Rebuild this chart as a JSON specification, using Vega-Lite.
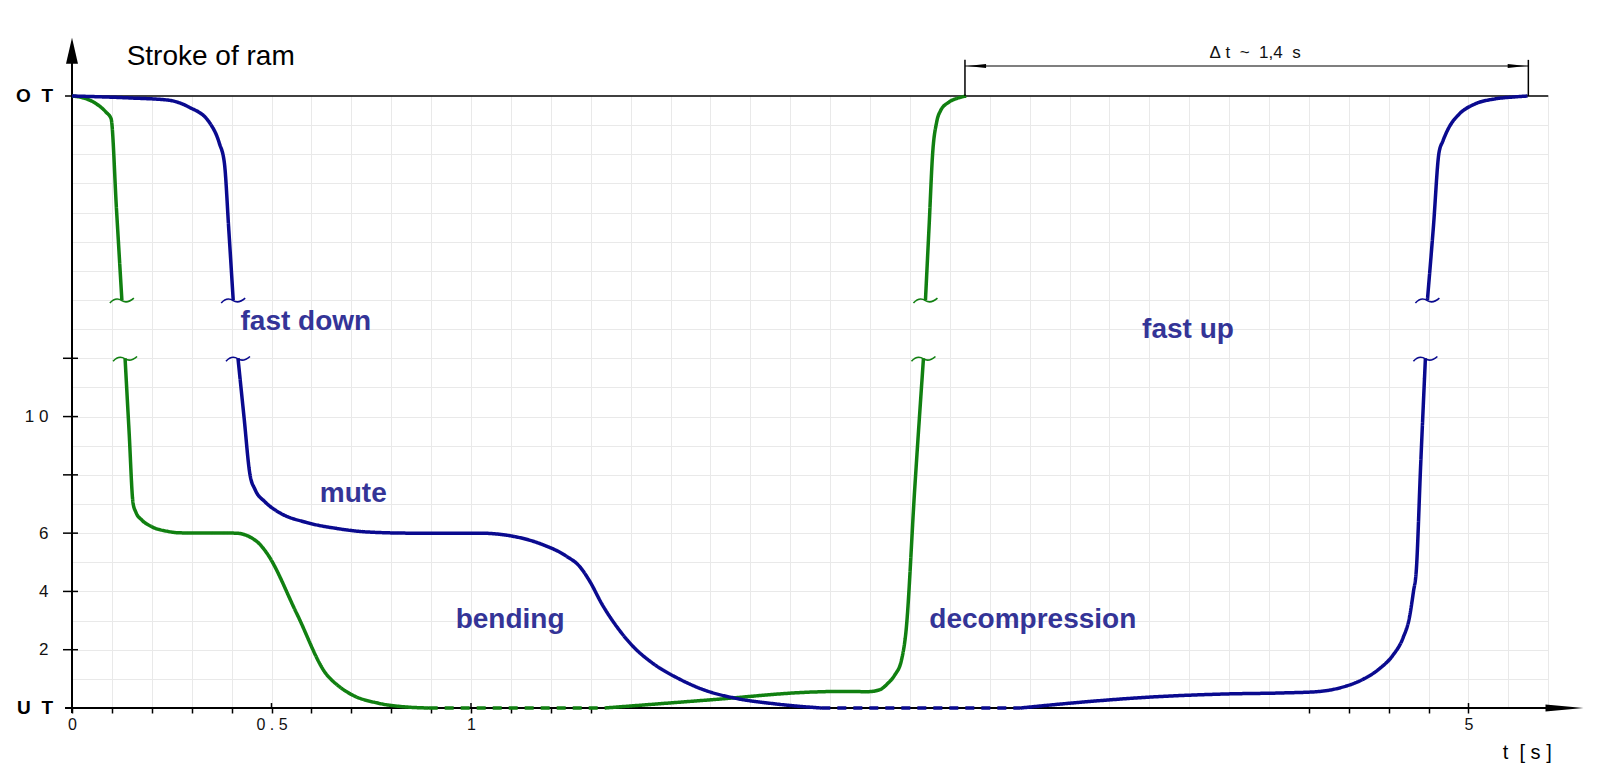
{
  "$schema": "https://vega.github.io/schema/vega-lite/v6.json",
  "width": 1476,
  "height": 612,
  "autosize": {"type": "none"},
  "padding": {"left": 72, "top": 96, "right": 52, "bottom": 69},
  "background": "white",
  "config": {"view": {"stroke": null}, "font": "Liberation Sans", "axis": {"labelFont": "Liberation Sans"}},
  "datasets": {
    "curves": [
      {"series": "A", "seg": "A1", "state": "moving", "t": 0, "v": 21},
      {"series": "A", "seg": "A1", "state": "moving", "t": 0.03, "v": 20.93},
      {"series": "A", "seg": "A1", "state": "moving", "t": 0.06, "v": 20.74},
      {"series": "A", "seg": "A1", "state": "moving", "t": 0.085, "v": 20.45},
      {"series": "A", "seg": "A1", "state": "moving", "t": 0.098, "v": 20.22},
      {"series": "A", "seg": "A1", "state": "moving", "t": 0.1115, "v": 17.11},
      {"series": "A", "seg": "A1", "state": "moving", "t": 0.125, "v": 14},
      {"series": "A", "seg": "A2", "state": "moving", "t": 0.133, "v": 12},
      {"series": "A", "seg": "A2", "state": "moving", "t": 0.143, "v": 9.5},
      {"series": "A", "seg": "A2", "state": "moving", "t": 0.153, "v": 7.03},
      {"series": "A", "seg": "A2", "state": "moving", "t": 0.16, "v": 6.72},
      {"series": "A", "seg": "A2", "state": "moving", "t": 0.175, "v": 6.45},
      {"series": "A", "seg": "A2", "state": "moving", "t": 0.2, "v": 6.22},
      {"series": "A", "seg": "A2", "state": "moving", "t": 0.24, "v": 6.06},
      {"series": "A", "seg": "A2", "state": "moving", "t": 0.27, "v": 6.01},
      {"series": "A", "seg": "A2", "state": "moving", "t": 0.41, "v": 6.0},
      {"series": "A", "seg": "A2", "state": "moving", "t": 0.447, "v": 5.86},
      {"series": "A", "seg": "A2", "state": "moving", "t": 0.472, "v": 5.6},
      {"series": "A", "seg": "A2", "state": "moving", "t": 0.49, "v": 5.28},
      {"series": "A", "seg": "A2", "state": "moving", "t": 0.564, "v": 3.22},
      {"series": "A", "seg": "A2", "state": "moving", "t": 0.638, "v": 1.15},
      {"series": "A", "seg": "A2", "state": "moving", "t": 0.664, "v": 0.8},
      {"series": "A", "seg": "A2", "state": "moving", "t": 0.702, "v": 0.45},
      {"series": "A", "seg": "A2", "state": "moving", "t": 0.766, "v": 0.17},
      {"series": "A", "seg": "A2", "state": "moving", "t": 0.843, "v": 0.03},
      {"series": "A", "seg": "A2", "state": "moving", "t": 0.894, "v": 0},
      {"series": "A", "seg": "A3", "state": "dwell", "t": 0.894, "v": 0},
      {"series": "A", "seg": "A3", "state": "dwell", "t": 1.335, "v": 0},
      {"series": "A", "seg": "A4", "state": "moving", "t": 1.335, "v": 0},
      {"series": "A", "seg": "A4", "state": "moving", "t": 1.6, "v": 0.28},
      {"series": "A", "seg": "A4", "state": "moving", "t": 1.86, "v": 0.55},
      {"series": "A", "seg": "A4", "state": "moving", "t": 1.93, "v": 0.57},
      {"series": "A", "seg": "A4", "state": "moving", "t": 1.995, "v": 0.56},
      {"series": "A", "seg": "A4", "state": "moving", "t": 3.525, "v": 0.63},
      {"series": "A", "seg": "A4", "state": "moving", "t": 3.545, "v": 0.85},
      {"series": "A", "seg": "A4", "state": "moving", "t": 3.562, "v": 1.13},
      {"series": "A", "seg": "A4", "state": "moving", "t": 3.579, "v": 1.65},
      {"series": "A", "seg": "A4", "state": "moving", "t": 3.59, "v": 2.6},
      {"series": "A", "seg": "A4", "state": "moving", "t": 3.612, "v": 7.5},
      {"series": "A", "seg": "A4", "state": "moving", "t": 3.634, "v": 12},
      {"series": "A", "seg": "A5", "state": "moving", "t": 3.639, "v": 14},
      {"series": "A", "seg": "A5", "state": "moving", "t": 3.648, "v": 16.5},
      {"series": "A", "seg": "A5", "state": "moving", "t": 3.657, "v": 19.03},
      {"series": "A", "seg": "A5", "state": "moving", "t": 3.667, "v": 20.1},
      {"series": "A", "seg": "A5", "state": "moving", "t": 3.677, "v": 20.5},
      {"series": "A", "seg": "A5", "state": "moving", "t": 3.698, "v": 20.79},
      {"series": "A", "seg": "A5", "state": "moving", "t": 3.723, "v": 20.94},
      {"series": "A", "seg": "A5", "state": "moving", "t": 3.741, "v": 21},
      {"series": "B", "seg": "B1", "state": "moving", "t": 0, "v": 21},
      {"series": "B", "seg": "B1", "state": "moving", "t": 0.075, "v": 20.97},
      {"series": "B", "seg": "B1", "state": "moving", "t": 0.15, "v": 20.93},
      {"series": "B", "seg": "B1", "state": "moving", "t": 0.24, "v": 20.86},
      {"series": "B", "seg": "B1", "state": "moving", "t": 0.293, "v": 20.62},
      {"series": "B", "seg": "B1", "state": "moving", "t": 0.344, "v": 20.1},
      {"series": "B", "seg": "B1", "state": "moving", "t": 0.369, "v": 19.39},
      {"series": "B", "seg": "B1", "state": "moving", "t": 0.382, "v": 18.69},
      {"series": "B", "seg": "B1", "state": "moving", "t": 0.393, "v": 16.4},
      {"series": "B", "seg": "B1", "state": "moving", "t": 0.404, "v": 14},
      {"series": "B", "seg": "B2", "state": "moving", "t": 0.416, "v": 12},
      {"series": "B", "seg": "B2", "state": "moving", "t": 0.431, "v": 10},
      {"series": "B", "seg": "B2", "state": "moving", "t": 0.446, "v": 8.01},
      {"series": "B", "seg": "B2", "state": "moving", "t": 0.459, "v": 7.49},
      {"series": "B", "seg": "B2", "state": "moving", "t": 0.484, "v": 7.07},
      {"series": "B", "seg": "B2", "state": "moving", "t": 0.523, "v": 6.68},
      {"series": "B", "seg": "B2", "state": "moving", "t": 0.587, "v": 6.37},
      {"series": "B", "seg": "B2", "state": "moving", "t": 0.664, "v": 6.16},
      {"series": "B", "seg": "B2", "state": "moving", "t": 0.74, "v": 6.04},
      {"series": "B", "seg": "B2", "state": "moving", "t": 0.85, "v": 6.0},
      {"series": "B", "seg": "B2", "state": "moving", "t": 1.021, "v": 6.0},
      {"series": "B", "seg": "B2", "state": "moving", "t": 1.098, "v": 5.91},
      {"series": "B", "seg": "B2", "state": "moving", "t": 1.175, "v": 5.63},
      {"series": "B", "seg": "B2", "state": "moving", "t": 1.239, "v": 5.21},
      {"series": "B", "seg": "B2", "state": "moving", "t": 1.272, "v": 4.86},
      {"series": "B", "seg": "B2", "state": "moving", "t": 1.298, "v": 4.34},
      {"series": "B", "seg": "B2", "state": "moving", "t": 1.328, "v": 3.57},
      {"series": "B", "seg": "B2", "state": "moving", "t": 1.367, "v": 2.76},
      {"series": "B", "seg": "B2", "state": "moving", "t": 1.405, "v": 2.13},
      {"series": "B", "seg": "B2", "state": "moving", "t": 1.456, "v": 1.53},
      {"series": "B", "seg": "B2", "state": "moving", "t": 1.52, "v": 1.01},
      {"series": "B", "seg": "B2", "state": "moving", "t": 1.584, "v": 0.62},
      {"series": "B", "seg": "B2", "state": "moving", "t": 1.661, "v": 0.34},
      {"series": "B", "seg": "B2", "state": "moving", "t": 1.763, "v": 0.14},
      {"series": "B", "seg": "B2", "state": "moving", "t": 1.878, "v": 0},
      {"series": "B", "seg": "B3", "state": "dwell", "t": 1.878, "v": 0},
      {"series": "B", "seg": "B3", "state": "dwell", "t": 3.877, "v": 0},
      {"series": "B", "seg": "B4", "state": "moving", "t": 3.877, "v": 0},
      {"series": "B", "seg": "B4", "state": "moving", "t": 4.03, "v": 0.2},
      {"series": "B", "seg": "B4", "state": "moving", "t": 4.209, "v": 0.38},
      {"series": "B", "seg": "B4", "state": "moving", "t": 4.388, "v": 0.48},
      {"series": "B", "seg": "B4", "state": "moving", "t": 4.542, "v": 0.52},
      {"series": "B", "seg": "B4", "state": "moving", "t": 4.62, "v": 0.56},
      {"series": "B", "seg": "B4", "state": "moving", "t": 4.68, "v": 0.7},
      {"series": "B", "seg": "B4", "state": "moving", "t": 4.735, "v": 0.98},
      {"series": "B", "seg": "B4", "state": "moving", "t": 4.777, "v": 1.35},
      {"series": "B", "seg": "B4", "state": "moving", "t": 4.81, "v": 1.8},
      {"series": "B", "seg": "B4", "state": "moving", "t": 4.836, "v": 2.41},
      {"series": "B", "seg": "B4", "state": "moving", "t": 4.852, "v": 3.11},
      {"series": "B", "seg": "B4", "state": "moving", "t": 4.862, "v": 3.99},
      {"series": "B", "seg": "B4", "state": "moving", "t": 4.869, "v": 4.69},
      {"series": "B", "seg": "B4", "state": "moving", "t": 4.88, "v": 8.3},
      {"series": "B", "seg": "B4", "state": "moving", "t": 4.892, "v": 12},
      {"series": "B", "seg": "B5", "state": "moving", "t": 4.897, "v": 14},
      {"series": "B", "seg": "B5", "state": "moving", "t": 4.912, "v": 16.5},
      {"series": "B", "seg": "B5", "state": "moving", "t": 4.926, "v": 19.05},
      {"series": "B", "seg": "B5", "state": "moving", "t": 4.936, "v": 19.46},
      {"series": "B", "seg": "B5", "state": "moving", "t": 4.951, "v": 19.92},
      {"series": "B", "seg": "B5", "state": "moving", "t": 4.976, "v": 20.37},
      {"series": "B", "seg": "B5", "state": "moving", "t": 5.015, "v": 20.72},
      {"series": "B", "seg": "B5", "state": "moving", "t": 5.066, "v": 20.9},
      {"series": "B", "seg": "B5", "state": "moving", "t": 5.117, "v": 20.97},
      {"series": "B", "seg": "B5", "state": "moving", "t": 5.148, "v": 21}
    ],
    "breaks": [
      {"series": "A", "t": 0.125, "v": 14},
      {"series": "A", "t": 0.133, "v": 12},
      {"series": "A", "t": 3.639, "v": 14},
      {"series": "A", "t": 3.634, "v": 12},
      {"series": "B", "t": 0.404, "v": 14},
      {"series": "B", "t": 0.416, "v": 12},
      {"series": "B", "t": 4.897, "v": 14},
      {"series": "B", "t": 4.892, "v": 12}
    ],
    "phases": [
      {"label": "fast down", "t": 0.586, "v": 12.97},
      {"label": "mute", "t": 0.705, "v": 7.07},
      {"label": "bending", "t": 1.098, "v": 2.75},
      {"label": "decompression", "t": 3.908, "v": 2.75},
      {"label": "fast up", "t": 4.297, "v": 12.69}
    ]
  },
  "resolve": {"axis": {"x": "independent", "y": "independent"}},
  "layer": [
    {
      "data": {"name": "curves"},
      "mark": {"type": "line", "strokeWidth": 3.4, "interpolate": "monotone"},
      "encoding": {
        "x": {"field": "t", "type": "quantitative", "scale": {"domain": [0, 2, 3.5, 5.2], "range": [0, 798, 798, 1476.3], "nice": false, "zero": false}, "axis": {"orient": "bottom", "grid": true, "gridColor": "#e9e9e9", "gridWidth": 1, "values": [0.1, 0.2, 0.3, 0.4, 0.5, 0.6, 0.7, 0.8, 0.9, 1.0, 1.1, 1.2, 1.3, 1.4, 1.5, 1.6, 1.7, 1.8, 1.9, 2.0, 3.6, 3.7, 3.8, 3.9, 4.0, 4.1, 4.2, 4.3, 4.4, 4.5, 4.6, 4.7, 4.8, 4.9, 5.0, 5.1, 5.2], "ticks": false, "tickSize": 0, "labels": false, "domain": false, "title": null}},
        "y": {"field": "v", "type": "quantitative", "scale": {"domain": [0, 21], "nice": false, "zero": false}, "axis": {"orient": "left", "grid": true, "gridColor": "#e9e9e9", "gridWidth": 1, "values": [1, 2, 3, 4, 5, 6, 7, 8, 9, 10, 11, 12, 13, 14, 15, 16, 17, 18, 19, 20], "ticks": false, "tickSize": 0, "labels": false, "domain": false, "title": null}},
        "color": {"field": "series", "type": "nominal", "scale": {"domain": ["A", "B"], "range": ["#118011", "#0a0a8f"]}, "legend": null},
        "detail": {"field": "seg"},
        "strokeDash": {"field": "state", "type": "nominal", "scale": {"domain": ["moving", "dwell"], "range": [[1, 0], [9, 7]]}, "legend": null},
        "opacity": {"value": 0}
      }
    },
    {
      "data": {"values": [{}]},
      "mark": {"type": "rule", "color": "#000", "strokeWidth": 1.5},
      "encoding": {"x": {"datum": -0.0175, "type": "quantitative", "axis": null}, "x2": {"datum": 5.2}, "y": {"datum": 21, "type": "quantitative", "axis": null}}
    },
    {
      "data": {"values": [{}]},
      "mark": {"type": "rule", "color": "#000", "strokeWidth": 2},
      "encoding": {"x": {"datum": -0.0175, "type": "quantitative", "axis": null}, "x2": {"datum": 5.2}, "y": {"datum": 0, "type": "quantitative", "axis": null}}
    },
    {
      "data": {"values": [{}]},
      "mark": {"type": "rule", "color": "#000", "strokeWidth": 2},
      "encoding": {"x": {"datum": 0, "type": "quantitative", "axis": null}, "y": {"datum": -0.17, "type": "quantitative", "axis": null}, "y2": {"datum": 22.3}}
    },
    {
      "data": {"values": [{"v": 2}, {"v": 4}, {"v": 6}, {"v": 8}, {"v": 10}, {"v": 12}]},
      "mark": {"type": "rule", "color": "#000", "strokeWidth": 1.5},
      "encoding": {"x": {"datum": -0.0226, "type": "quantitative", "axis": null}, "x2": {"datum": 0.015}, "y": {"field": "v", "type": "quantitative", "axis": null}}
    },
    {
      "data": {"values": [{"t": 0.5}, {"t": 1}, {"t": 5}]},
      "mark": {"type": "rule", "color": "#000", "strokeWidth": 1.5},
      "encoding": {"x": {"field": "t", "type": "quantitative", "axis": null}, "y": {"datum": 0, "type": "quantitative", "axis": null}, "y2": {"datum": 0.17}}
    },
    {
      "data": {"name": "curves"},
      "mark": {"type": "line", "strokeWidth": 3.5, "interpolate": "monotone"},
      "encoding": {
        "x": {"field": "t", "type": "quantitative", "axis": null},
        "y": {"field": "v", "type": "quantitative", "axis": null},
        "color": {"field": "series", "type": "nominal", "scale": {"domain": ["A", "B"], "range": ["#118011", "#0a0a8f"]}, "legend": null},
        "detail": {"field": "seg"},
        "strokeDash": {"field": "state", "type": "nominal", "scale": {"domain": ["moving", "dwell"], "range": [[1, 0], [9, 7]]}, "legend": null}
      }
    },
    {
      "data": {"name": "breaks"},
      "mark": {"type": "point", "shape": "M-1,0.25C-0.6,-0.2 -0.3,-0.15 0,0.05C0.3,0.25 0.6,0.2 1,-0.15", "size": 576, "filled": false, "strokeWidth": 1.6, "opacity": 1},
      "encoding": {
        "x": {"field": "t", "type": "quantitative", "axis": {"orient": "bottom", "grid": false, "values": [0, 0.1, 0.2, 0.3, 0.4, 0.5, 0.6, 0.7, 0.8, 0.9, 1, 1.1, 1.2, 1.3, 4.6, 4.7, 4.8, 4.9, 5], "ticks": true, "tickSize": 5, "tickWidth": 1.5, "tickColor": "#000", "labelExpr": "datum.value == 0 ? '0' : datum.value == 0.5 ? '0 . 5' : datum.value == 1 ? '1' : datum.value == 5 ? '5' : ''", "labelFontSize": 16, "labelColor": "#111", "labelPadding": 3, "labelOverlap": false, "labelFlush": false, "domain": false, "title": null}},
        "y": {"field": "v", "type": "quantitative", "axis": {"orient": "left", "grid": false, "values": [2, 4, 6, 10], "ticks": false, "tickSize": 0, "labelExpr": "datum.value == 10 ? '1 0' : datum.label", "labelFontSize": 17, "labelColor": "#111", "labelPadding": 24, "labelOverlap": false, "domain": false, "title": null}},
        "color": {"field": "series", "type": "nominal", "scale": {"domain": ["A", "B"], "range": ["#118011", "#0a0a8f"]}, "legend": null}
      }
    },
    {
      "data": {"name": "phases"},
      "mark": {"type": "text", "font": "Liberation Sans", "fontSize": 28, "fontWeight": "bold", "color": "#343497", "align": "center", "baseline": "alphabetic"},
      "encoding": {"x": {"field": "t", "type": "quantitative", "axis": null}, "y": {"field": "v", "type": "quantitative", "axis": null}, "text": {"field": "label"}}
    },
    {
      "data": {"values": [{"label": "Stroke of ram", "t": 0.137, "v": 22.07}]},
      "mark": {"type": "text", "font": "Liberation Sans", "fontSize": 28, "color": "#000", "align": "left", "baseline": "alphabetic"},
      "encoding": {"x": {"field": "t", "type": "quantitative", "axis": null}, "y": {"field": "v", "type": "quantitative", "axis": null}, "text": {"field": "label"}}
    },
    {
      "data": {"values": [{"label": "t\u00a0\u00a0[ s ]", "t": 5.086, "v": -1.74}]},
      "mark": {"type": "text", "font": "Liberation Sans", "fontSize": 20, "color": "#000", "align": "left", "baseline": "alphabetic"},
      "encoding": {"x": {"field": "t", "type": "quantitative", "axis": null}, "y": {"field": "v", "type": "quantitative", "axis": null}, "text": {"field": "label"}}
    },
    {
      "data": {"values": [{"label": "O\u00a0\u00a0T", "v": 21}, {"label": "U\u00a0\u00a0T", "v": 0}]},
      "mark": {"type": "text", "font": "Liberation Sans", "fontSize": 19, "fontWeight": "bold", "color": "#000", "align": "right", "baseline": "middle"},
      "encoding": {"x": {"datum": -0.0476, "type": "quantitative", "axis": null}, "y": {"field": "v", "type": "quantitative", "axis": null}, "text": {"field": "label"}}
    },
    {
      "data": {"values": [{"t": 3.738}, {"t": 5.15}]},
      "mark": {"type": "rule", "color": "#000", "strokeWidth": 1.5},
      "encoding": {"x": {"field": "t", "type": "quantitative", "axis": null}, "y": {"datum": 21, "type": "quantitative", "axis": null}, "y2": {"datum": 22.24}}
    },
    {
      "data": {"values": [{}]},
      "mark": {"type": "rule", "color": "#000", "strokeWidth": 1.2},
      "encoding": {"x": {"datum": 3.738, "type": "quantitative", "axis": null}, "x2": {"datum": 5.15}, "y": {"datum": 22.03, "type": "quantitative", "axis": null}}
    },
    {
      "data": {"values": [{}]},
      "mark": {"type": "point", "shape": "M-1,0L1,-0.22L1,0.22Z", "size": 361, "filled": true, "color": "#000", "opacity": 1},
      "encoding": {"x": {"datum": 3.767, "type": "quantitative", "axis": null}, "y": {"datum": 22.03, "type": "quantitative", "axis": null}}
    },
    {
      "data": {"values": [{}]},
      "mark": {"type": "point", "shape": "M1,0L-1,-0.22L-1,0.22Z", "size": 361, "filled": true, "color": "#000", "opacity": 1},
      "encoding": {"x": {"datum": 5.122, "type": "quantitative", "axis": null}, "y": {"datum": 22.03, "type": "quantitative", "axis": null}}
    },
    {
      "data": {"values": [{"label": "Δ\u00a0t\u00a0\u00a0~\u00a0\u00a01,4\u00a0\u00a0s", "t": 4.465, "v": 22.3}]},
      "mark": {"type": "text", "font": "Liberation Sans", "fontSize": 17, "color": "#111", "align": "center", "baseline": "alphabetic"},
      "encoding": {"x": {"field": "t", "type": "quantitative", "axis": null}, "y": {"field": "v", "type": "quantitative", "axis": null}, "text": {"field": "label"}}
    },
    {
      "data": {"values": [{}]},
      "mark": {"type": "point", "shape": "M-1,-0.18L1,0L-1,0.18Z", "size": 1444, "filled": true, "color": "#000", "opacity": 1},
      "encoding": {"x": {"datum": 5.2406, "type": "quantitative", "axis": null}, "y": {"datum": 0, "type": "quantitative", "axis": null}}
    },
    {
      "data": {"values": [{}]},
      "mark": {"type": "point", "shape": "M0,-1L0.46,1L-0.46,1Z", "size": 676, "filled": true, "color": "#000", "opacity": 1},
      "encoding": {"x": {"datum": 0, "type": "quantitative", "axis": null}, "y": {"datum": 22.55, "type": "quantitative", "axis": null}}
    }
  ]
}
